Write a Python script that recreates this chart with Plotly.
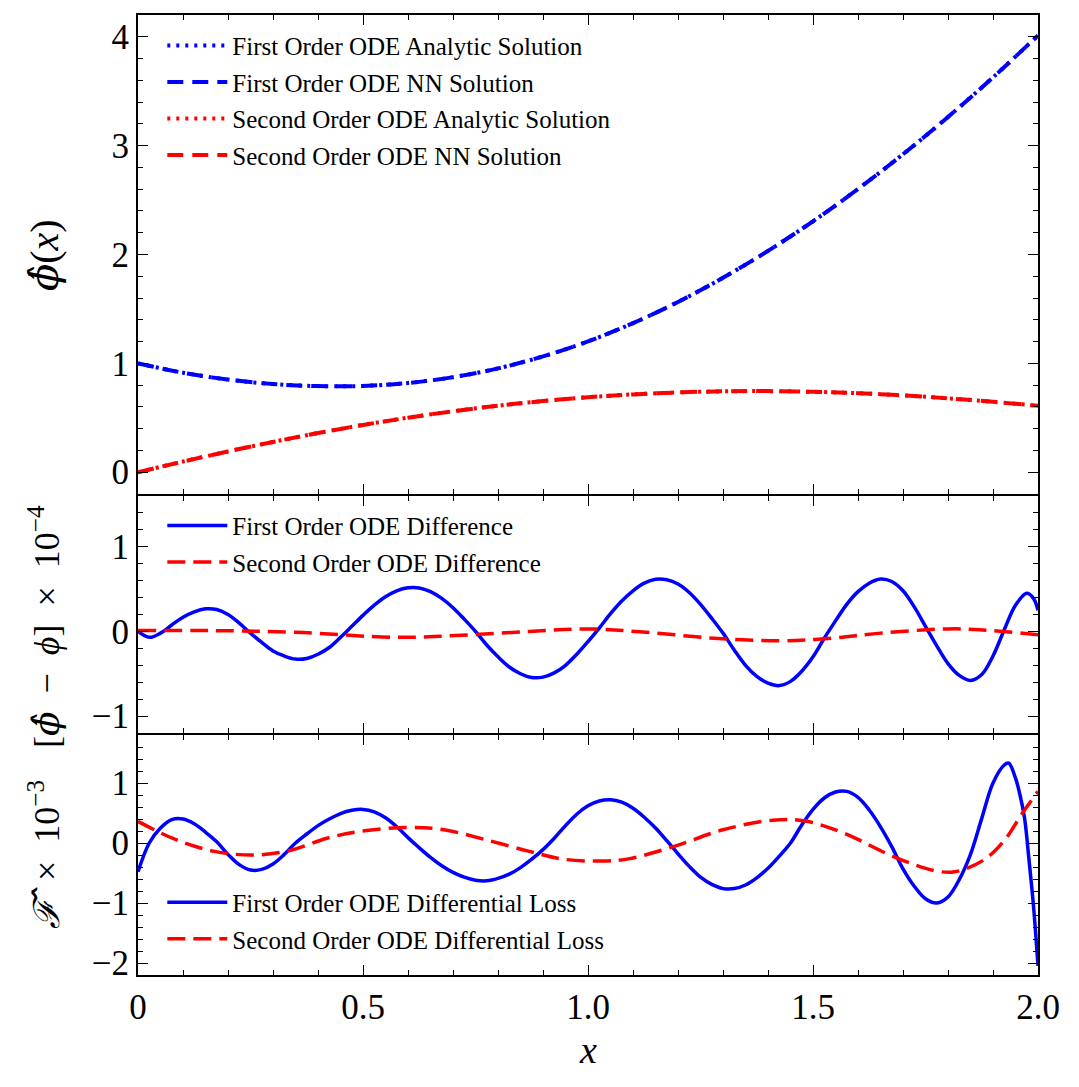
import plotly.graph_objects as go

# ---------------- data ----------------
x_sol = [0.0, 0.1, 0.2, 0.3, 0.4, 0.5, 0.6, 0.7, 0.8, 0.9, 1.0,
         1.1, 1.2, 1.3, 1.4, 1.5, 1.6, 1.7, 1.8, 1.9, 2.0]
first_analytic = [1.000, 0.914, 0.851, 0.810, 0.791, 0.793, 0.820, 0.873, 0.954, 1.064, 1.202,
                  1.369, 1.564, 1.786, 2.033, 2.305, 2.602, 2.921, 3.263, 3.627, 4.012]
first_nn = [1.000, 0.914, 0.851, 0.810, 0.791, 0.793, 0.820, 0.873, 0.954, 1.064, 1.202,
            1.369, 1.564, 1.786, 2.033, 2.305, 2.602, 2.921, 3.263, 3.627, 4.012]
second_analytic = [0.000, 0.098, 0.191, 0.278, 0.360, 0.434, 0.501, 0.560, 0.611, 0.654, 0.689,
                   0.715, 0.733, 0.743, 0.745, 0.739, 0.726, 0.706, 0.679, 0.647, 0.610]
second_nn = [0.000, 0.098, 0.191, 0.278, 0.360, 0.434, 0.501, 0.560, 0.611, 0.654, 0.689,
             0.715, 0.733, 0.743, 0.745, 0.739, 0.726, 0.706, 0.679, 0.647, 0.610]

x_diff1 = [0.0, 0.025, 0.05, 0.075, 0.1, 0.125, 0.15, 0.175, 0.2, 0.225, 0.25, 0.275, 0.3,
           0.325, 0.35, 0.375, 0.4, 0.425, 0.45, 0.475, 0.5, 0.525, 0.55, 0.575, 0.6, 0.625,
           0.65, 0.675, 0.7, 0.725, 0.75, 0.775, 0.8, 0.825, 0.85, 0.875, 0.9, 0.925, 0.95,
           0.975, 1.0, 1.025, 1.05, 1.075, 1.1, 1.125, 1.15, 1.175, 1.2, 1.225, 1.25, 1.275,
           1.3, 1.325, 1.35, 1.375, 1.4, 1.425, 1.45, 1.475, 1.5, 1.525, 1.55, 1.575, 1.6,
           1.625, 1.65, 1.675, 1.7, 1.725, 1.75, 1.775, 1.8, 1.825, 1.85, 1.875, 1.9, 1.925,
           1.95, 1.975, 1.99, 2.0]
diff1 = [0.0, -0.07, -0.02, 0.076, 0.168, 0.232, 0.267, 0.259, 0.20, 0.098, -0.02, -0.13, -0.23,
         -0.29, -0.327, -0.32, -0.27, -0.19, -0.07, 0.06, 0.19, 0.31, 0.41, 0.48, 0.515, 0.514,
         0.47, 0.39, 0.28, 0.145, 0.0, -0.16, -0.30, -0.42, -0.50, -0.545, -0.54, -0.49, -0.40,
         -0.27, -0.12, 0.04, 0.21, 0.36, 0.48, 0.57, 0.616, 0.61, 0.56, 0.46, 0.32, 0.155,
         -0.02, -0.22, -0.40, -0.53, -0.61, -0.64, -0.59, -0.47, -0.30, -0.08, 0.125, 0.32, 0.47,
         0.57, 0.62, 0.59, 0.48, 0.29, 0.06, -0.17, -0.38, -0.52, -0.58, -0.51, -0.29, 0.02,
         0.31, 0.45, 0.39, 0.25]

x_diff2 = [0.0, 0.16, 0.35, 0.575, 0.72, 0.87, 1.0, 1.13, 1.28, 1.43, 1.54, 1.65, 1.80, 1.87, 2.0]
diff2 = [0.01, 0.01, -0.01, -0.07, -0.045, 0.0, 0.03, -0.01, -0.08, -0.11, -0.08, -0.02, 0.03, 0.02, -0.04]

x_loss1 = [0.0, 0.025, 0.05, 0.075, 0.1, 0.125, 0.15, 0.175, 0.2, 0.225, 0.25, 0.275, 0.3,
           0.325, 0.35, 0.375, 0.4, 0.425, 0.45, 0.475, 0.5, 0.525, 0.55, 0.575, 0.6, 0.625,
           0.65, 0.675, 0.7, 0.725, 0.75, 0.775, 0.8, 0.825, 0.85, 0.875, 0.9, 0.925, 0.95,
           0.975, 1.0, 1.025, 1.05, 1.075, 1.1, 1.125, 1.15, 1.175, 1.2, 1.225, 1.25, 1.275,
           1.3, 1.325, 1.35, 1.375, 1.4, 1.425, 1.45, 1.475, 1.5, 1.525, 1.55, 1.575, 1.6,
           1.625, 1.65, 1.675, 1.7, 1.725, 1.75, 1.775, 1.8, 1.825, 1.85, 1.875, 1.9, 1.925,
           1.935, 1.95, 1.96, 1.97, 1.98, 1.99, 2.0]
loss1 = [-0.48, 0.0, 0.25, 0.39, 0.40, 0.32, 0.18, 0.02, -0.19, -0.36, -0.45, -0.44, -0.35,
         -0.19, 0.0, 0.15, 0.29, 0.40, 0.49, 0.545, 0.56, 0.52, 0.42, 0.27, 0.09, -0.08,
         -0.24, -0.38, -0.49, -0.57, -0.62, -0.63, -0.59, -0.52, -0.41, -0.27, -0.11, 0.08, 0.29,
         0.48, 0.62, 0.70, 0.72, 0.68, 0.58, 0.43, 0.25, 0.04, -0.18, -0.39, -0.57, -0.69,
         -0.76, -0.76, -0.70, -0.58, -0.42, -0.22, 0.0, 0.30, 0.56, 0.75, 0.85, 0.86, 0.76,
         0.55, 0.27, -0.06, -0.43, -0.72, -0.93, -1.0, -0.90, -0.61, -0.19, 0.41, 1.0, 1.30,
         1.33, 1.08, 0.80, 0.42, -0.28, -1.05, -2.05]

x_loss2 = [0.0, 0.083, 0.17, 0.26, 0.34, 0.42, 0.49, 0.60, 0.68, 0.77, 0.87, 0.945, 1.034,
           1.093, 1.19, 1.30, 1.41, 1.48, 1.57, 1.68, 1.77, 1.815, 1.88, 1.926, 1.963, 2.0]
loss2 = [0.36, 0.06, -0.14, -0.20, -0.12, 0.08, 0.19, 0.26, 0.22, 0.06, -0.14, -0.27, -0.30,
         -0.26, -0.06, 0.22, 0.38, 0.37, 0.16, -0.23, -0.46, -0.48, -0.28, 0.05, 0.47, 0.86]

x_tickvals = [0, 0.5, 1.0, 1.5, 2.0]
x_ticktext = ["0", "0.5", "1.0", "1.5", "2.0"]
y1_tickvals = [0, 1, 2, 3, 4]
y2_tickvals = [-1, 0, 1]
y3_tickvals = [-2, -1, 0, 1]

# ---------------- styling ----------------
FONT = "Liberation Serif, DejaVu Serif, serif"
BLUE = "#0000ff"
RED = "#ff0000"
DOT = "3px,6px"
DASH = "16px,9px"

fig = go.Figure()

fig.add_trace(go.Scatter(x=x_sol, y=first_analytic, mode="lines", line_shape="spline",
                         name="First Order ODE Analytic Solution", legend="legend", legendgroup="a",
                         line=dict(color=BLUE, width=4, dash=DOT), xaxis="x", yaxis="y"))
fig.add_trace(go.Scatter(x=x_sol, y=first_nn, mode="lines", line_shape="spline",
                         name="First Order ODE NN Solution", legend="legend", legendgroup="b",
                         line=dict(color=BLUE, width=4, dash=DASH), xaxis="x", yaxis="y"))
fig.add_trace(go.Scatter(x=x_sol, y=second_analytic, mode="lines", line_shape="spline",
                         name="Second Order ODE Analytic Solution", legend="legend", legendgroup="c",
                         line=dict(color=RED, width=4, dash=DOT), xaxis="x", yaxis="y"))
fig.add_trace(go.Scatter(x=x_sol, y=second_nn, mode="lines", line_shape="spline",
                         name="Second Order ODE NN Solution", legend="legend", legendgroup="d",
                         line=dict(color=RED, width=4, dash=DASH), xaxis="x", yaxis="y"))

fig.add_trace(go.Scatter(x=x_diff1, y=diff1, mode="lines", line_shape="spline",
                         name="First Order ODE Difference", legend="legend2", legendgroup="e",
                         line=dict(color=BLUE, width=3.5), xaxis="x2", yaxis="y2"))
fig.add_trace(go.Scatter(x=x_diff2, y=diff2, mode="lines", line_shape="spline",
                         name="Second Order ODE Difference", legend="legend2", legendgroup="f",
                         line=dict(color=RED, width=3.5, dash="18px,8px"), xaxis="x2", yaxis="y2"))

fig.add_trace(go.Scatter(x=x_loss1, y=loss1, mode="lines", line_shape="spline",
                         name="First Order ODE Differential Loss", legend="legend3", legendgroup="g",
                         line=dict(color=BLUE, width=3.5), xaxis="x3", yaxis="y3"))
fig.add_trace(go.Scatter(x=x_loss2, y=loss2, mode="lines", line_shape="spline",
                         name="Second Order ODE Differential Loss", legend="legend3", legendgroup="h",
                         line=dict(color=RED, width=3.5, dash="18px,8px"), xaxis="x3", yaxis="y3"))

H = 960.0
dom1 = [481 / H, 1.0]
dom2 = [242 / H, 479 / H]
dom3 = [0, 240 / H]

common_ax = dict(showline=True, linewidth=2, linecolor="black", mirror="allticks",
                 ticks="inside", ticklen=10, tickwidth=1, tickcolor="black",
                 showgrid=False, zeroline=False,
                 tickfont=dict(family=FONT, size=35, color="black"))

minor_y = dict(dtick=0.2, tick0=0, ticks="inside", ticklen=5, tickwidth=1, tickcolor="black")
xa = dict(common_ax, range=[0, 2], tickvals=x_tickvals, ticktext=x_ticktext,
          minor=dict(dtick=0.1, tick0=0, ticks="inside", ticklen=5, tickwidth=1, tickcolor="black"))

leg_common = dict(xanchor="left", bgcolor="rgba(0,0,0,0)",
                  font=dict(family=FONT, size=25, color="black"), itemwidth=60,
                  traceorder="grouped", tracegroupgap=1)

fig.update_layout(
    width=1079, height=1087,
    margin=dict(l=138, r=41, t=15, b=112),
    paper_bgcolor="white", plot_bgcolor="white",
    showlegend=True,
    xaxis=dict(xa, domain=[0, 1], anchor="y", showticklabels=False),
    xaxis2=dict(xa, domain=[0, 1], anchor="y2", showticklabels=False, matches="x"),
    xaxis3=dict(xa, domain=[0, 1], anchor="y3", showticklabels=True, matches="x"),
    yaxis=dict(common_ax, domain=dom1, anchor="x", range=[-0.2, 4.2], tickvals=y1_tickvals, minor=minor_y),
    yaxis2=dict(common_ax, domain=dom2, anchor="x2", range=[-1.2, 1.6], tickvals=y2_tickvals, minor=minor_y),
    yaxis3=dict(common_ax, domain=dom3, anchor="x3", range=[-2.2, 1.8], tickvals=y3_tickvals, minor=minor_y),
    legend=dict(leg_common, x=0.027, y=0.992, yanchor="top"),
    legend2=dict(leg_common, x=0.027, y=0.492, yanchor="top"),
    legend3=dict(leg_common, x=0.027, y=0.014, yanchor="bottom"),
)

HAT = '<span style="font-family:DejaVu Serif;font-style:italic">{}</span>'
title_font = dict(family=FONT, size=40, color="black")
fig.add_annotation(text=HAT.format("ϕ̂") + "(<i>x</i>)", textangle=-90, xref="paper", yref="paper",
                   x=(44 - 138) / 900, y=(975 - 255) / H, showarrow=False,
                   xanchor="center", yanchor="middle", font=dict(title_font, size=40))
fig.add_annotation(text="[" + HAT.format("ϕ̂") + "\u2002−\u2002<i>ϕ</i>]\u2002×\u200210<sup>−4</sup>",
                   textangle=-90, xref="paper", yref="paper",
                   x=(44 - 138) / 900, y=(975 - 627) / H, showarrow=False,
                   xanchor="center", yanchor="middle", font=dict(title_font, size=36))
fig.add_annotation(text=HAT.format("ℱ̂") + "\u2002×\u200210<sup>−3</sup>", textangle=-90,
                   xref="paper", yref="paper",
                   x=(44 - 138) / 900, y=(975 - 855) / H, showarrow=False,
                   xanchor="center", yanchor="middle", font=dict(title_font, size=36))
fig.add_annotation(text="<i>x</i>", xref="paper", yref="paper",
                   x=(588 - 138) / 900, y=(975 - 1050) / H, showarrow=False,
                   xanchor="center", yanchor="middle", font=dict(family=FONT, size=38, color="black"))

fig.write_html("out.html")
